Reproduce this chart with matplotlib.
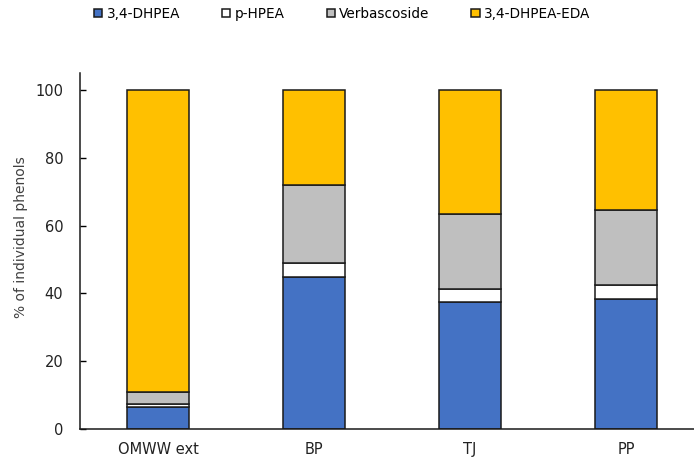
import matplotlib.pyplot as plt
import numpy as np

samples = ["OMWW ext", "BP", "TJ", "PP"]
series = ["3,4-DHPEA", "p-HPEA", "Verbascoside", "3,4-DHPEA-EDA"]
dhpea = [6.4, 44.7, 37.6, 38.3]
phpea = [1.1, 4.3, 3.8, 4.2]
verbascoside = [3.5, 23.1, 21.9, 22.1]
eda = [89.0, 27.9, 36.7, 35.4]
colors = ["#4472C4", "#FFFFFF", "#BFBFBF", "#FFC000"]

fig = plt.figure(figsize=(6.94, 4.65), dpi=100)
ax = fig.add_axes([80 / 694, 36 / 465, 614 / 694, 356 / 465])

x = np.arange(len(samples))
bottom = np.zeros(len(samples))
handles = []
for vals, color, name in zip([dhpea, phpea, verbascoside, eda], colors, series):
    b = ax.bar(x, vals, width=0.4, bottom=bottom, color=color,
               edgecolor="#1a1a1a", linewidth=1.1, label=name)
    bottom += np.array(vals)
    handles.append(b)

ax.set_xlim(-0.5, 3.436)
ax.set_ylim(0, 105)
ax.set_yticks([0, 20, 40, 60, 80, 100])
ax.set_xticks(x)
ax.set_xticklabels(samples)
ax.tick_params(axis="y", direction="in", length=4, width=1, labelsize=10.5,
               labelcolor="#222222", pad=12)
ax.tick_params(axis="x", length=0, labelsize=10.5, labelcolor="#222222", pad=9)
for side in ["top", "right"]:
    ax.spines[side].set_visible(False)
for side in ["left", "bottom"]:
    ax.spines[side].set_linewidth(1.1)
    ax.spines[side].set_color("#1a1a1a")
ax.set_ylabel("% of individual phenols", fontsize=10, color="#404040")
ax.yaxis.set_label_coords(-0.085, 0.539)

fig.legend(handles=handles, labels=series, loc="center",
           bbox_to_anchor=(0.493, 0.97), ncol=4, frameon=False, fontsize=9.8,
           handlelength=0.6, handleheight=0.6, handletextpad=0.3,
           columnspacing=3.1)

plt.savefig("out.png", dpi=100)
